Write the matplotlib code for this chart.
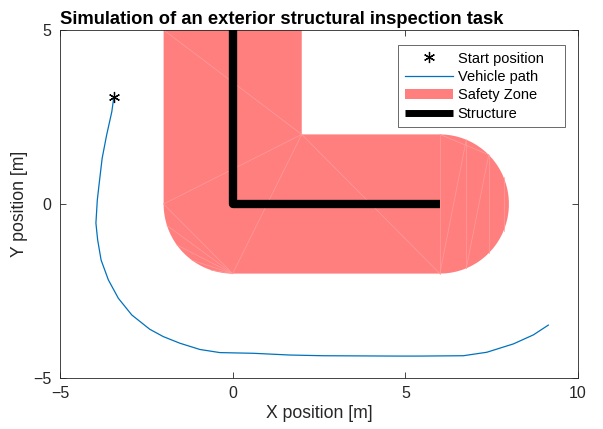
import numpy as np
import matplotlib
matplotlib.use("Agg")
import matplotlib.pyplot as plt
from matplotlib.patches import Polygon, Patch
from matplotlib.lines import Line2D

plt.rcParams['font.family'] = ['Liberation Sans', 'DejaVu Sans']

# Data
start_pos = (-3.44, 3.08)
path_x = [-3.44, -3.50, -3.65, -3.78, -3.87, -3.92, -3.96, -3.91, -3.81, -3.60, -3.31,
          -2.92, -2.40, -2.01, -1.53, -0.95, -0.37, 0.60, 1.66, 2.62, 4.75, 5.42,
          6.68, 7.36, 8.13, 8.71, 9.14]
path_y = [3.08, 2.65, 1.98, 1.31, 0.55, 0.11, -0.55, -1.03, -1.61, -2.18, -2.71,
          -3.19, -3.60, -3.81, -4.00, -4.18, -4.27, -4.29, -4.34, -4.36, -4.37, -4.37,
          -4.36, -4.26, -4.02, -3.76, -3.48]
structure_x = [0, 0, 6]
structure_y = [5.5, 0, 0]
safety_radius = 2.0
xticks = [-5, 0, 5, 10]
yticks = [-5, 0, 5]

fig = plt.figure(figsize=(6.03, 4.29), dpi=100)
ax = fig.add_axes([60/603, 1-378/429, 518/603, 348/429])

# Safety zone polygon (buffer of the structure)
r = safety_radius
pts = [(-r, 5.5), (r, 5.5), (r, r), (6, r)]
th = np.linspace(np.pi/2, -np.pi/2, 40)
pts += [(6 + r*np.cos(t), r*np.sin(t)) for t in th]
pts += [(0, -r)]
th2 = np.linspace(-np.pi/2, -np.pi, 30)
pts += [(r*np.cos(t), r*np.sin(t)) for t in th2]
pts += [(-r, 5.5)]
zone = Polygon(pts, closed=True, facecolor='#FF7F7F', edgecolor='none', zorder=1)
ax.add_patch(zone)

# faint triangulation edges
tri_col = '#FF9B9B'
tri_lines = [[(-2, 5), (2, 2)], [(2, 2), (-2, 0)], [(2, 2), (0, -2)], [(2, 2), (6, -2)],
             [(6, 2), (6, -2)]]
for t in np.linspace(-np.pi, -np.pi/2, 6)[1:-1]:
    tri_lines.append([(0, -2), (2*np.cos(t), 2*np.sin(t))])
tri_lines.append([(-2, 0), (0, -2)])
cap = [(6 + 2*np.cos(t), 2*np.sin(t)) for t in np.linspace(np.pi/2, -np.pi/2, 9)]
tri_lines += [[(6, 2), cap[2]], [cap[1], cap[7]], [cap[2], cap[6]], [cap[3], cap[5]],
              [cap[1], (6, -2)], [cap[2], cap[7]]]
for seg in tri_lines:
    xs, ys = zip(*seg)
    ax.plot(xs, ys, color=tri_col, lw=0.5, zorder=1.5)

# Structure
ax.plot(structure_x, structure_y, color='black', lw=6, solid_joinstyle='round',
        solid_capstyle='butt', zorder=3)

# Vehicle path
ax.plot(path_x, path_y, color='#0072BD', lw=0.9, zorder=4)
ax.plot([start_pos[0]], [start_pos[1]], marker=(6, 2, 0), color='black', ms=8, mew=0.9,
        linestyle='none', zorder=5)

ax.set_xlim(-5, 10)
ax.set_ylim(-5, 5)
ax.set_xticks(xticks)
ax.set_yticks(yticks)
ax.tick_params(direction='in', top=True, right=True, labelsize=11.5, length=4,
               width=0.6, color='#262626', labelcolor='#262626', pad=6)
for s in ax.spines.values():
    s.set_linewidth(0.6)
    s.set_color('#262626')

ax.set_xlabel('X position [m]', fontsize=12.7, color='#262626', labelpad=3)
ax.set_ylabel('Y position [m]', fontsize=12.7, color='#262626', labelpad=4)
ax.set_title('Simulation of an exterior structural inspection task', fontsize=13.2,
             fontweight='bold', loc='left', pad=4)

handles = [
    Line2D([], [], marker=(6, 2, 0), color='black', linestyle='none', ms=8, mew=0.9),
    Line2D([], [], color='#0072BD', lw=0.9),
    Patch(facecolor='#FF7F7F', edgecolor='none'),
    Line2D([], [], color='black', lw=5, solid_capstyle='butt'),
]
labels = ['Start position', 'Vehicle path', 'Safety Zone', 'Structure']
x0 = (398 - 60) / 518
w = 167 / 518
top = (378 - 45) / 348
leg = ax.legend(handles, labels, loc='upper left', bbox_to_anchor=(x0, 0.3, w, top - 0.3),
                mode='expand', borderaxespad=0, fontsize=10.5, frameon=True,
                fancybox=False, edgecolor='#262626', handlelength=3.3, labelspacing=0.3,
                borderpad=0.45, handletextpad=0.35)
leg.get_frame().set_linewidth(0.6)

fig.savefig('out.png', dpi=100)
